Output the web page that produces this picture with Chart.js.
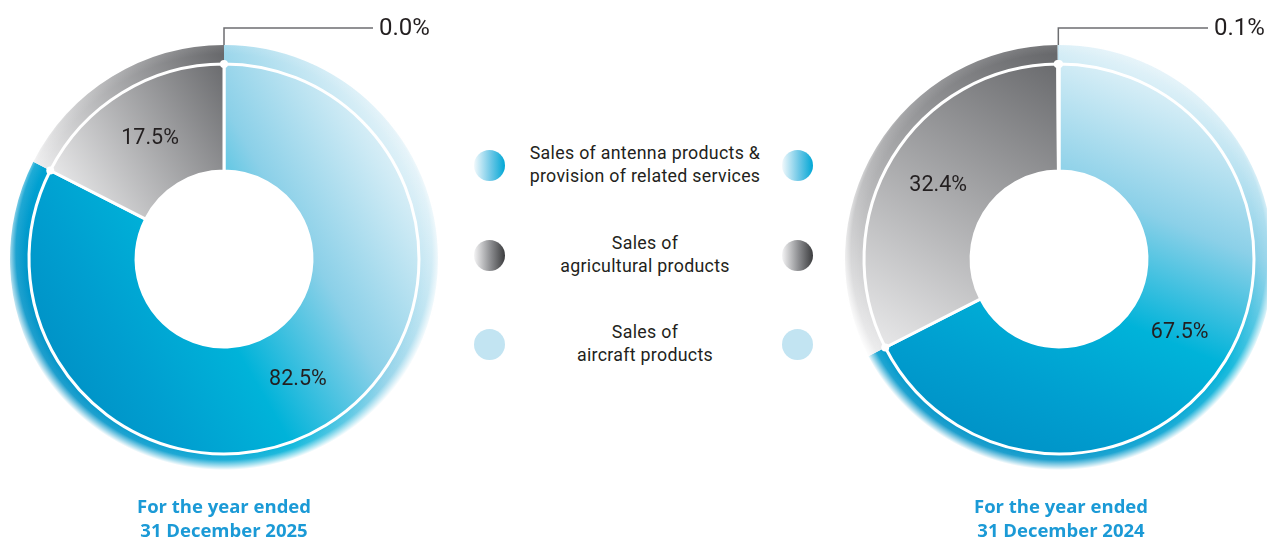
<!DOCTYPE html>
<html>
<head>
<meta charset="utf-8">
<script src="https://cdn.jsdelivr.net/npm/chart.js@4.4.1/dist/chart.umd.min.js"></script>
<style>
  html, body { margin: 0; padding: 0; background: #fff; overflow: hidden; }
  #wrap { position: relative; width: 1267px; height: 541px; overflow: hidden; }
  canvas.pie { position: absolute; top: 0; }
  .lg-row { position: absolute; left: 460px; width: 370px; height: 46px; }
  .lg-dot { position: absolute; top: 7px; width: 31px; height: 31px; border-radius: 50%; }
  .lg-text { position: absolute; left: 20px; width: 330px; top: -1px; text-align: center;
             font-family: Roboto, sans-serif; font-size: 17.8px; line-height: 22.5px; color: #231f20; letter-spacing: 0.3px; }
  .period { position: absolute; top: 494px; width: 300px; text-align: center;
            font-family: "Open Sans", sans-serif; font-weight: 700; font-size: 18.5px; line-height: 24px; color: #1b9ad6; }
</style>
</head>
<body>
<div id="wrap">
  <canvas id="pie2025" class="pie" width="448" height="518" style="left:0px"></canvas>
  <canvas id="pie2024" class="pie" width="448" height="518" style="left:835px"></canvas>
  <div id="legend"></div>
  <div class="period" id="period2025" style="left:74px"></div>
  <div class="period" id="period2024" style="left:911px"></div>
</div>
<script>
// categories (two lines each, as in the legend)
const categoryLines = [
  ['Sales of antenna products &', 'provision of related services'],
  ['Sales of', 'agricultural products'],
  ['Sales of', 'aircraft products']
];
const periods = ['31 December 2025', '31 December 2024'];
// share of revenue, %
const share2025 = [82.5, 17.5, 0.0];
const share2024 = [67.5, 32.4, 0.1];

// legend swatches
const dotFills = [
  'linear-gradient(to right, #f2f9fc, #6cc7e6 55%, #00a7d5)',
  'linear-gradient(to right, #f4f4f5, #8a8b8e 55%, #3b3c3e)',
  '#c2e4f2'
];
const legendTops = [143, 233, 322];

const legendBox = document.getElementById('legend');
categoryLines.forEach((lines, i) => {
  const row = document.createElement('div');
  row.className = 'lg-row';
  row.style.top = legendTops[i] + 'px';
  row.innerHTML =
    '<div class="lg-dot" style="left:14px;background:' + dotFills[i] + '"></div>' +
    '<div class="lg-text">' + lines.join('<br>') + '</div>' +
    '<div class="lg-dot" style="left:322px;background:' + dotFills[i] + '"></div>';
  legendBox.appendChild(row);
});
document.getElementById('period2025').innerHTML = 'For the year ended<br>' + periods[0];
document.getElementById('period2024').innerHTML = 'For the year ended<br>' + periods[1];

const R_OUT = 214;

function ptAt(cx, cy, r, deg) {
  const a = deg * Math.PI / 180;
  return [cx + r * Math.sin(a), cy - r * Math.cos(a)];
}

// antenna gradient runs light -> dark between two angles (degrees clockwise from 12 o'clock)
function makeFill(blueAxis) {
  return function (ctx) {
    const chart = ctx.chart;
    const area = chart.chartArea;
    const i = ctx.dataIndex;
    if (!area) return ['#00a0d2', '#a9aaad', '#c2e4f2'][i];
    const cx = (area.left + area.right) / 2, cy = (area.top + area.bottom) / 2;
    const c = chart.ctx;
    if (i === 0) {
      const p0 = ptAt(cx, cy, R_OUT, blueAxis[0]);
      const p1 = ptAt(cx, cy, R_OUT, blueAxis[1]);
      const g = c.createLinearGradient(p0[0], p0[1], p1[0], p1[1]);
      g.addColorStop(0, '#e4f3f9');
      g.addColorStop(0.32, '#8bd0e8');
      g.addColorStop(0.58, '#00b3d9');
      g.addColorStop(0.8, '#009fd0');
      g.addColorStop(1, '#0090c5');
      return g;
    }
    if (i === 1) {
      const data = chart.data.datasets[ctx.datasetIndex].data;
      const total = data.reduce((s, v) => s + v, 0);
      const start = data[0] / total * 360;
      const end = (data[0] + data[1]) / total * 360;
      const pDark = ptAt(cx, cy, R_OUT, end);
      const pLight = ptAt(cx, cy, R_OUT, start);
      const g = c.createLinearGradient(pDark[0], pDark[1], pLight[0], pLight[1]);
      g.addColorStop(0, '#646568');
      g.addColorStop(1, '#ededee');
      return g;
    }
    return '#c2e4f2';
  };
}

const ringDeco = {
  id: 'ringDeco',
  afterDatasetsDraw(chart) {
    const c = chart.ctx;
    const outer = chart.getDatasetMeta(0).data;
    const inner = chart.getDatasetMeta(1).data;
    const values = chart.data.datasets[1].data;
    const cx = outer[0].x, cy = outer[0].y;
    const R = outer[0].outerRadius, rb = outer[0].innerRadius;
    c.save();
    // soft outer edge of the outer band
    const g = c.createRadialGradient(cx, cy - 7, R - 16, cx, cy - 7, R + 4);
    g.addColorStop(0, 'rgba(255,255,255,0)');
    g.addColorStop(0.5, 'rgba(255,255,255,0.12)');
    g.addColorStop(1, 'rgba(255,255,255,1)');
    c.beginPath();
    c.arc(cx, cy, R + 2, 0, Math.PI * 2);
    c.arc(cx, cy, rb + 1.5, 0, Math.PI * 2, true);
    c.fillStyle = g;
    c.fill();
    // white joints on the white circle
    c.fillStyle = '#fff';
    inner.forEach((arc, i) => {
      if (values[i] <= 0) return;
      const a = arc.startAngle;
      c.beginPath();
      c.arc(cx + Math.cos(a) * arc.outerRadius, cy + Math.sin(a) * arc.outerRadius, 4, 0, Math.PI * 2);
      c.fill();
    });
    // value labels
    c.fillStyle = '#231f20';
    c.textBaseline = 'middle';
    inner.forEach((arc, i) => {
      const txt = values[i].toFixed(1) + '%';
      if (values[i] >= 1) {
        const p = arc.tooltipPosition();
        c.font = '21.5px Roboto, sans-serif';
        c.textAlign = 'center';
        c.fillText(txt, p.x, p.y);
      } else {
        const o = outer[i];
        const mid = (o.startAngle + o.endAngle) / 2;
        const x0 = cx + Math.cos(mid) * R;
        const y0 = cy + Math.sin(mid) * R;
        const yTop = cy - R - 17;
        c.strokeStyle = '#6d6e71';
        c.lineWidth = 1.5;
        c.beginPath();
        c.moveTo(x0, y0);
        c.lineTo(x0, yTop);
        c.lineTo(cx + 149, yTop);
        c.stroke();
        c.font = '24px Roboto, sans-serif';
        c.textAlign = 'left';
        c.fillText(txt, cx + 155, yTop + 1);
      }
    });
    c.restore();
  }
};

function makePie(id, values, blueAxis) {
  const fill = makeFill(blueAxis);
  return new Chart(document.getElementById(id), {
    type: 'doughnut',
    data: {
      labels: categoryLines.map(l => l.join(' ')),
      datasets: [
        { data: values, backgroundColor: fill, borderWidth: 0, weight: 19, order: 1 },
        { data: values, backgroundColor: fill, borderColor: '#ffffff', borderWidth: 3, weight: 107, order: 0 }
      ]
    },
    options: {
      responsive: false,
      animation: false,
      events: [],
      radius: R_OUT,
      cutout: '41.1%',
      layout: { padding: 0 },
      plugins: { legend: { display: false }, tooltip: { enabled: false } }
    },
    plugins: [ringDeco]
  });
}

makePie('pie2025', share2025, [60, 240]);
makePie('pie2024', share2024, [20, 205]);
</script>
</body>
</html>
